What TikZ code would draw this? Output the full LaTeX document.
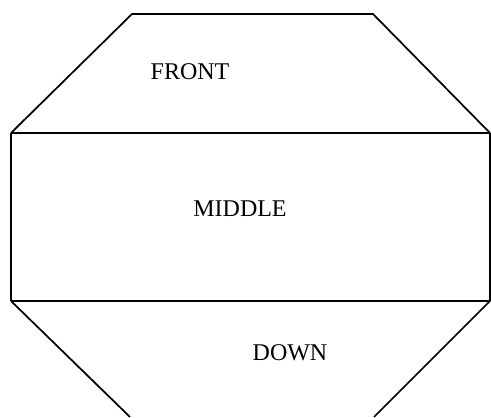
\documentclass[tikz,border=0pt]{standalone}
\usepackage{fontspec}
\setmainfont{Liberation Serif}
\tikzset{
	edge/.style={line width=1.3pt, draw=black, line join=miter},
	label/.style={font=\fontsize{18}{20}\selectfont, inner sep=0pt},
}
\begin{document}
\begin{tikzpicture}[x=0.75pt, y=-0.75pt]
		\useasboundingbox (0,0) rectangle (491,417);
		% corners of the outline
		\coordinate (tl) at (132,14);
		\coordinate (tr) at (373,14);
		\coordinate (ml) at (11,133);
		\coordinate (mr) at (490,133);
		\coordinate (bl) at (11,301);
		\coordinate (br) at (490,301);
		\coordinate (dl) at (130,417);
		\coordinate (dr) at (374,417);
		% outline and dividers
		\draw[edge] (ml) -- (tl) -- (tr) -- (mr);
		\draw[edge] (ml) -- (mr);
		\draw[edge] (ml) -- (bl);
		\draw[edge] (mr) -- (br);
		\draw[edge] (bl) -- (br);
		\draw[edge] (dl) -- (bl);
		\draw[edge] (br) -- (dr);
		% section names
		\node[label] (front) at (190,72) {FRONT};
		\node[label] (middle) at (240,209) {MIDDLE};
		\node[label] (down) at (290,353) {DOWN};
	\end{tikzpicture}
\end{document}
